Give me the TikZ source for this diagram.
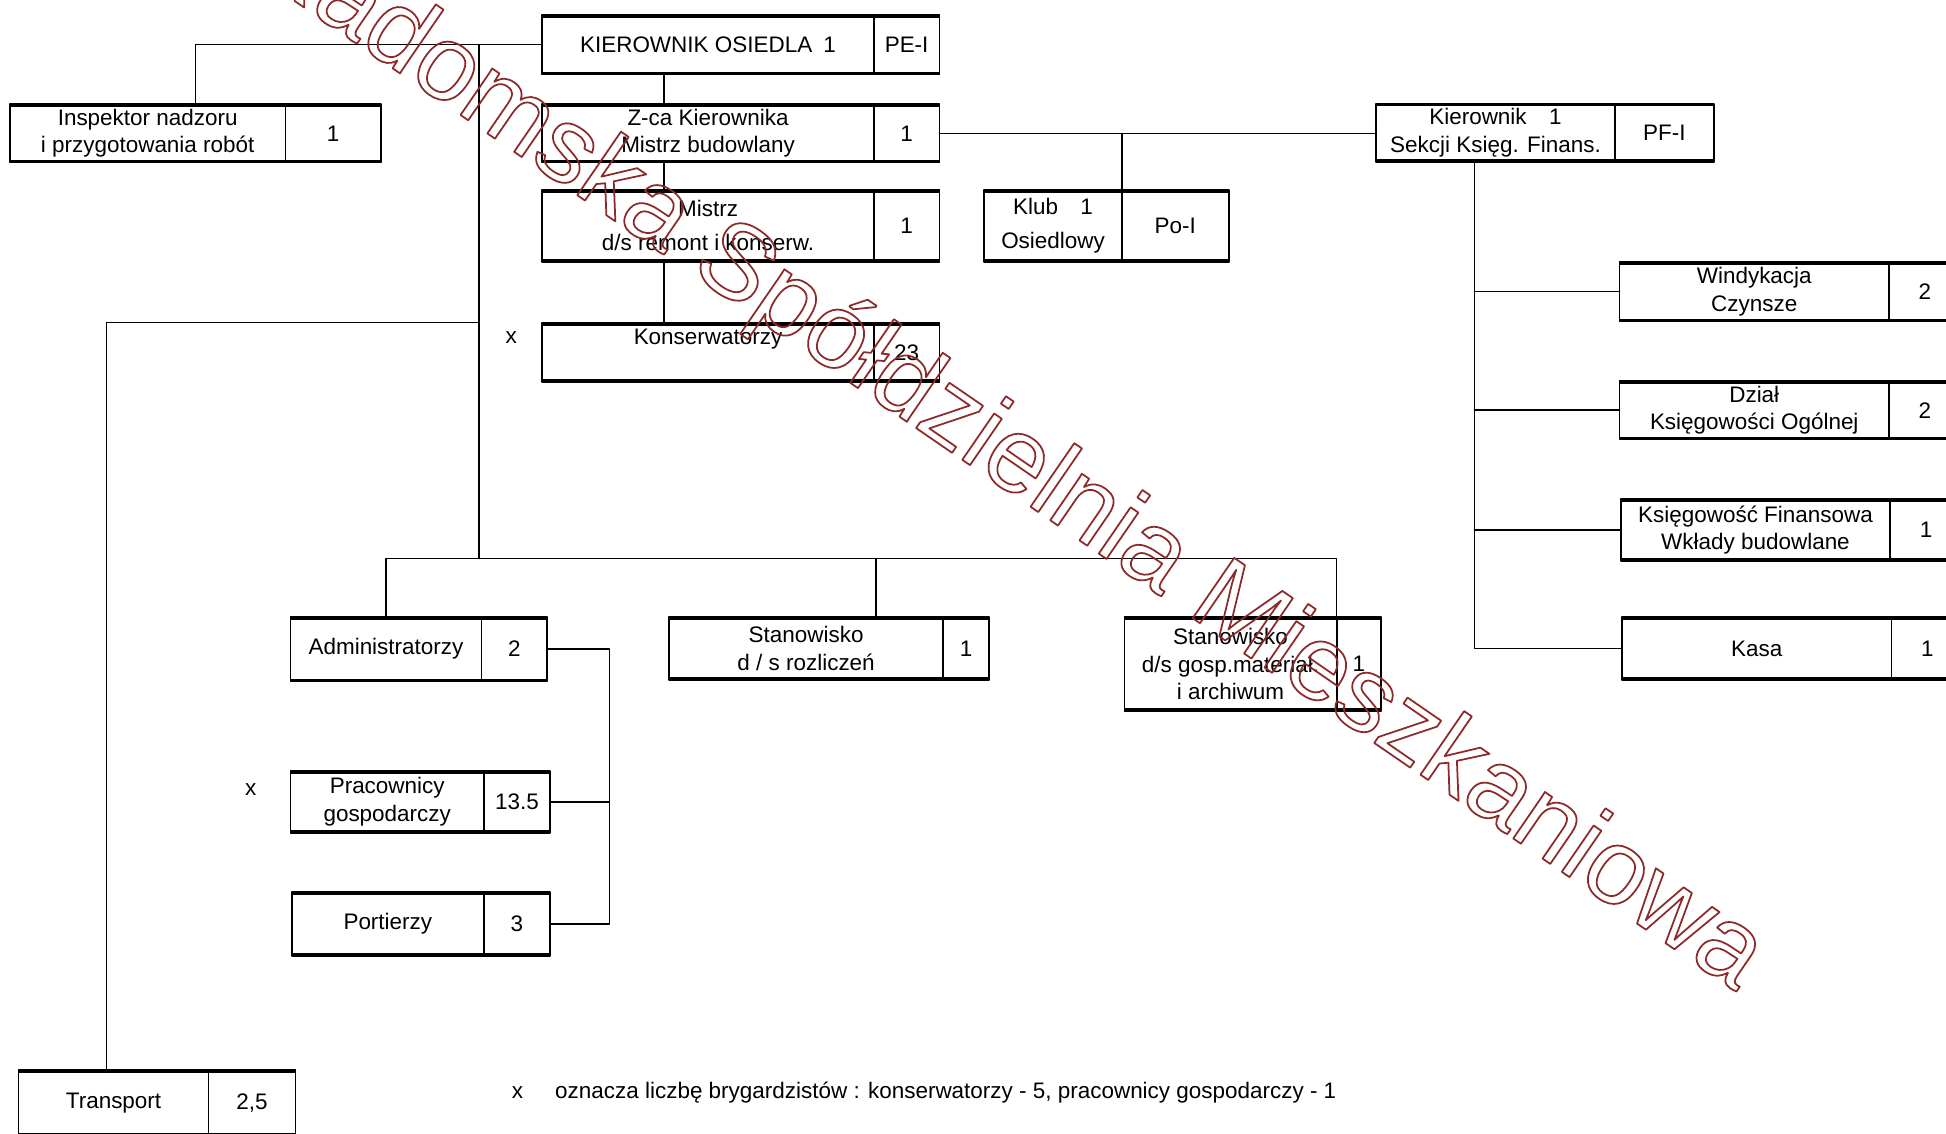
\documentclass[tikz,border=0pt]{standalone}
\usepackage{fontspec}
\setmainfont{Liberation Sans}
\usetikzlibrary{positioning,calc}
\definecolor{ttqqqq}{rgb}{0.55,0.16,0.16}

\begin{document}
\begin{tikzpicture}[x=0.2mm,y=-0.2mm,line cap=round,line join=round,
  font=\fontsize{10.3}{12.6}\selectfont,
  unit/.style={draw,line width=0.8pt,inner sep=0pt,outer sep=0pt,align=center,
    path picture={\draw[line width=2.6pt] (path picture bounding box.north west) -- (path picture bounding box.north east) (path picture bounding box.south west) -- (path picture bounding box.south east);}},
  link/.style={line width=0.7pt}]
\useasboundingbox (0,0) rectangle (1568,913);
\node[unit,minimum width=53.4mm,minimum height=9.6mm] (kos) at (570.5,36) {KIEROWNIK OSIEDLA\enspace 1};
\node[unit,minimum width=10.6mm,minimum height=9.6mm,right=0pt of kos] (kosN) {PE-I};
\node[unit,minimum width=44.4mm,minimum height=9.4mm] (insp) at (119,107.5) {Inspektor nadzoru\\i przygotowania robót};
\node[unit,minimum width=15.4mm,minimum height=9.4mm,right=0pt of insp] (inspN) {1};
\node[unit,minimum width=53.4mm,minimum height=9.4mm] (zca) at (570.5,107.5) {Z-ca Kierownika\\Mistrz budowlany};
\node[unit,minimum width=10.6mm,minimum height=9.4mm,right=0pt of zca] (zcaN) {1};
\node[unit,minimum width=53.4mm,minimum height=11.6mm] (mistrz) at (570.5,182) {Mistrz\\[3pt]d/s remont i konserw.};
\node[unit,minimum width=10.6mm,minimum height=11.6mm,right=0pt of mistrz] (mistrzN) {1};
\node[unit,minimum width=53.4mm,minimum height=9.6mm] (kons) at (570.5,284) {Konserwatorzy\\[2pt]~};
\node[unit,minimum width=10.6mm,minimum height=9.6mm,right=0pt of kons] (konsN) {23};
\node[unit,minimum width=22.2mm,minimum height=11.6mm] (klub) at (848.5,182) {Klub\quad 1\\[3pt]Osiedlowy};
\node[unit,minimum width=17.2mm,minimum height=11.6mm,right=0pt of klub] (klubN) {Po-I};
\node[unit,minimum width=38.4mm,minimum height=9.4mm] (ksf) at (1205,107) {Kierownik\quad 1\\Sekcji Księg. Finans.};
\node[unit,minimum width=16mm,minimum height=9.4mm,right=0pt of ksf] (ksfN) {PF-I};
\node[unit,minimum width=43.4mm,minimum height=9.6mm] (wind) at (1413.5,235) {Windykacja\\Czynsze};
\node[unit,minimum width=11.6mm,minimum height=9.6mm,right=0pt of wind] (windN) {2};
\node[unit,minimum width=43.4mm,minimum height=9.4mm] (dzial) at (1413.5,330.5) {Dział\\Księgowości Ogólnej};
\node[unit,minimum width=11.6mm,minimum height=9.4mm,right=0pt of dzial] (dzialN) {2};
\node[unit,minimum width=43.4mm,minimum height=10mm] (ksfin) at (1414.5,427) {Księgowość Finansowa\\Wkłady budowlane};
\node[unit,minimum width=11.6mm,minimum height=10mm,right=0pt of ksfin] (ksfinN) {1};
\node[unit,minimum width=43.4mm,minimum height=10.2mm] (kasa) at (1415.5,522.5) {Kasa};
\node[unit,minimum width=11.6mm,minimum height=10.2mm,right=0pt of kasa] (kasaN) {1};
\node[unit,minimum width=30.8mm,minimum height=10.4mm] (adm) at (311,523) {Administratorzy};
\node[unit,minimum width=10.6mm,minimum height=10.4mm,right=0pt of adm] (admN) {2};
\node[unit,minimum width=44.2mm,minimum height=10.2mm] (rozl) at (649.5,522.5) {Stanowisko\\d / s rozliczeń};
\node[unit,minimum width=7.4mm,minimum height=10.2mm,right=0pt of rozl] (rozlN) {1};
\node[unit,minimum width=34.2mm,minimum height=15.2mm] (gosp) at (991.5,535) {Stanowisko\\d/s gosp.materiał.\\i archiwum};
\node[unit,minimum width=7.2mm,minimum height=15.2mm,right=0pt of gosp] (gospN) {1};
\node[unit,minimum width=31.2mm,minimum height=10mm] (prac) at (312,646) {Pracownicy\\gospodarczy};
\node[unit,minimum width=10.6mm,minimum height=10mm,right=0pt of prac] (pracN) {13.5};
\node[unit,minimum width=31mm,minimum height=10.2mm] (port) at (312.5,744.5) {Portierzy};
\node[unit,minimum width=10.6mm,minimum height=10.2mm,right=0pt of port] (portN) {3};
\node[unit,minimum width=30.6mm,minimum height=10.6mm] (trans) at (91.5,888.5) {Transport};
\node[unit,minimum width=14mm,minimum height=10.6mm,right=0pt of trans] (transN) {2,5};
\node (xkons) at (412,272) {x};
\node (xprac) at (202,636) {x};
\node (xnote) at (417,880) {x};
\node[anchor=west,inner sep=0pt] (note) at (447,880) {oznacza liczbę brygardzistów : konserwatorzy - 5, pracownicy gospodarczy - 1};
\draw[link] (kos.west) -| ($(insp.north west)!0.5!(inspN.north east)$);
\draw[link] ([xshift=-7.1mm]kos.south) -- ([xshift=-7.1mm]zca.north);
\draw[link] ([xshift=-7.1mm]zca.south) -- ([xshift=-7.1mm]mistrz.north);
\draw[link] ([xshift=-7.1mm]mistrz.south) -- ([xshift=-7.1mm]kons.north);
\coordinate (bus) at (386,450);
\draw[link] (bus |- kos.west) -- (bus);
\draw[link] (adm.north) |- (bus) -| (gosp.north east);
\draw[link] ([xshift=11.3mm]rozl.north) -- ([xshift=11.3mm]rozl.north |- bus);
\draw[link] ([xshift=-1.1mm]trans.north) |- (bus |- kons.north);
\coordinate (admdrop) at ($(admN.east)+(50,0)$);
\draw[link] (admN.east) -- (admdrop) |- (portN.east);
\draw[link] (pracN.east) -- (pracN.east -| admdrop);
\draw[link] (zcaN.east) -- (zcaN.east -| ksf.west);
\draw[link] (klub.north east) -- (klub.north east |- zcaN.east);
\coordinate (ksfdrop) at ([xshift=-3.4mm]ksf.south);
\draw[link] (ksfdrop) |- (kasa.west);
\foreach \n in {wind,dzial,ksfin} \draw[link] (\n.west) -- (\n.west -| ksfdrop);
\node[anchor=base west,rotate=-34.5,inner sep=0pt,text=ttqqqq,font=\fontsize{48.8}{50}\selectfont] (stamp) at (197,-27) {\special{pdf:literal direct 1 Tr 0.8 w}Radomska Spółdzielnia Mieszkaniowa\special{pdf:literal direct 0 Tr}};
\end{tikzpicture}
\end{document}
